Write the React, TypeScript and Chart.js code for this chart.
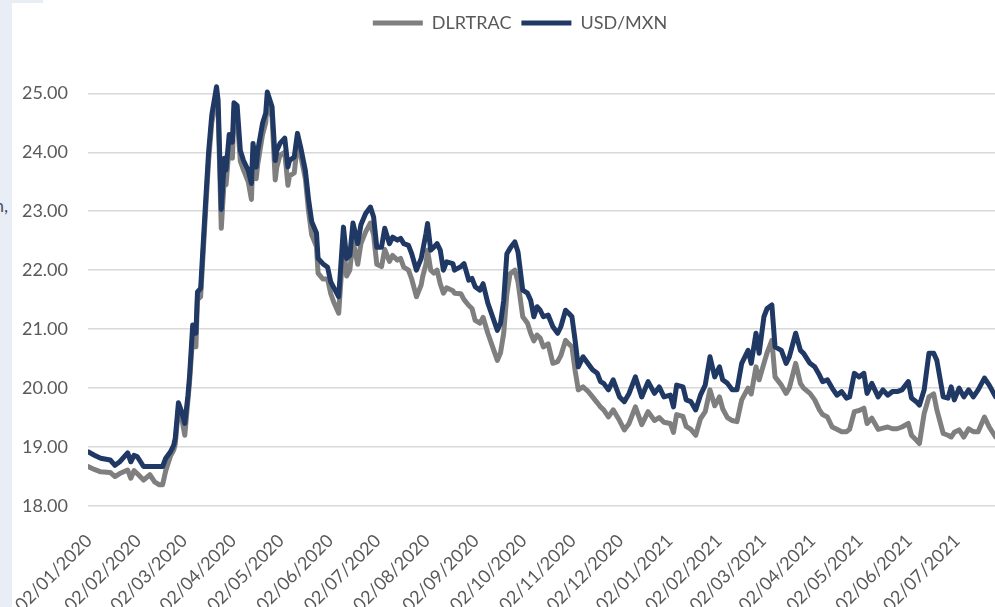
import { useEffect, useRef } from "react";
import { Chart, registerables } from "chart.js";

Chart.register(...registerables);

// ---- data ----
const dates = [
  "2020-01-02","2020-01-06","2020-01-10","2020-01-16","2020-01-19","2020-01-22","2020-01-27","2020-01-29","2020-01-31",
  "2020-02-02","2020-02-06","2020-02-10","2020-02-13","2020-02-16","2020-02-18","2020-02-20","2020-02-23","2020-02-25","2020-02-26","2020-02-28",
  "2020-03-01","2020-03-03","2020-03-05","2020-03-06","2020-03-08","2020-03-10","2020-03-11","2020-03-13","2020-03-16","2020-03-18","2020-03-20","2020-03-23","2020-03-24","2020-03-26","2020-03-28","2020-03-29","2020-03-31",
  "2020-04-02","2020-04-03","2020-04-05","2020-04-07","2020-04-09","2020-04-12","2020-04-14","2020-04-15","2020-04-17","2020-04-18","2020-04-21","2020-04-23","2020-04-24","2020-04-27","2020-04-29","2020-04-30",
  "2020-05-02","2020-05-05","2020-05-07","2020-05-08","2020-05-11","2020-05-13","2020-05-15","2020-05-18","2020-05-20","2020-05-22","2020-05-25","2020-05-26","2020-05-29",
  "2020-06-01","2020-06-03","2020-06-05","2020-06-08","2020-06-11","2020-06-13","2020-06-15","2020-06-17","2020-06-20","2020-06-22","2020-06-25","2020-06-28","2020-06-30",
  "2020-07-02","2020-07-05","2020-07-07","2020-07-10","2020-07-12","2020-07-15","2020-07-17","2020-07-19","2020-07-22","2020-07-24","2020-07-27","2020-07-30","2020-07-31",
  "2020-08-02","2020-08-03","2020-08-05","2020-08-07","2020-08-09","2020-08-11","2020-08-13","2020-08-15","2020-08-19","2020-08-20","2020-08-24","2020-08-26","2020-08-29","2020-08-31",
  "2020-09-02","2020-09-05","2020-09-07","2020-09-10","2020-09-13","2020-09-16","2020-09-18","2020-09-20","2020-09-22","2020-09-24","2020-09-27","2020-09-29",
  "2020-10-02","2020-10-05","2020-10-07","2020-10-09","2020-10-11","2020-10-13","2020-10-15","2020-10-18","2020-10-21","2020-10-24","2020-10-26","2020-10-29","2020-10-31",
  "2020-11-02","2020-11-04","2020-11-06","2020-11-09","2020-11-12","2020-11-15","2020-11-18","2020-11-20","2020-11-22","2020-11-25","2020-11-28",
  "2020-12-02","2020-12-05","2020-12-08","2020-12-12","2020-12-16","2020-12-20","2020-12-24","2020-12-27","2020-12-30",
  "2021-01-03","2021-01-05","2021-01-07","2021-01-11","2021-01-13","2021-01-16","2021-01-19","2021-01-22","2021-01-25","2021-01-28","2021-01-31",
  "2021-02-03","2021-02-05","2021-02-08","2021-02-11","2021-02-14","2021-02-17","2021-02-21","2021-02-23","2021-02-26","2021-02-28",
  "2021-03-03","2021-03-05","2021-03-08","2021-03-10","2021-03-14","2021-03-17","2021-03-19","2021-03-23","2021-03-26","2021-03-28",
  "2021-04-01","2021-04-04","2021-04-07","2021-04-09","2021-04-12","2021-04-15","2021-04-18","2021-04-21","2021-04-24","2021-04-26","2021-04-29",
  "2021-05-02","2021-05-05","2021-05-07","2021-05-10","2021-05-14","2021-05-17","2021-05-20","2021-05-23","2021-05-26","2021-05-29",
  "2021-06-02","2021-06-04","2021-06-07","2021-06-09","2021-06-12","2021-06-15","2021-06-18","2021-06-20","2021-06-24","2021-06-27","2021-06-29",
  "2021-07-01","2021-07-04","2021-07-07","2021-07-10","2021-07-13","2021-07-16","2021-07-20","2021-07-23","2021-07-27",
];

const usdMxn = [
  18.92,18.86,18.81,18.78,18.69,18.75,18.90,18.75,18.86,
  18.84,18.67,18.67,18.67,18.67,18.67,18.81,18.92,19.03,19.15,19.75,
  19.60,19.40,19.88,20.20,21.07,20.93,21.63,21.69,23.10,24.00,24.63,25.11,24.88,23.03,23.90,23.70,24.30,
  24.17,24.84,24.79,24.03,23.86,23.69,23.47,24.15,23.75,24.03,24.49,24.66,25.02,24.77,23.86,24.03,
  24.15,24.24,23.75,23.86,23.92,24.32,24.09,23.69,23.20,22.82,22.63,22.20,22.11,
  22.05,21.80,21.70,21.55,22.73,22.20,22.25,22.80,22.45,22.77,22.96,23.07,22.90,
  22.39,22.39,22.71,22.45,22.56,22.51,22.54,22.45,22.42,22.28,22.00,22.20,22.34,
  22.62,22.79,22.34,22.39,22.45,22.34,22.00,22.14,22.11,22.00,22.06,22.11,21.83,21.86,
  21.72,21.66,21.77,21.44,21.21,20.98,21.10,21.49,22.28,22.37,22.48,22.31,
  21.66,21.61,21.49,21.21,21.38,21.32,21.21,21.24,21.04,20.93,21.04,21.32,21.27,
  21.21,20.81,20.36,20.53,20.42,20.31,20.25,20.11,20.08,19.97,20.14,
  19.85,19.77,19.91,20.19,19.85,20.11,19.91,20.02,19.85,
  19.88,19.68,20.05,20.02,19.80,19.77,19.63,19.88,20.05,20.53,20.19,
  20.36,20.14,20.08,19.97,19.97,20.42,20.64,20.42,20.93,20.59,
  21.21,21.35,21.41,20.70,20.64,20.42,20.53,20.93,20.64,20.59,
  20.42,20.36,20.22,20.11,20.14,20.00,19.88,19.94,19.83,19.85,20.25,
  20.19,20.25,19.91,20.08,19.85,19.97,19.88,19.94,19.94,19.97,
  20.11,19.83,19.77,19.71,19.97,20.59,20.59,20.47,19.85,19.83,20.02,
  19.80,20.00,19.85,19.97,19.85,19.97,20.17,20.05,19.85,
];

const dlrTrac = [
  18.67,18.62,18.58,18.57,18.50,18.55,18.61,18.47,18.60,
  18.55,18.44,18.53,18.41,18.36,18.36,18.60,18.85,18.95,19.05,19.65,
  19.50,19.20,19.80,20.10,20.90,20.70,21.50,21.55,22.95,23.85,24.50,24.95,24.70,22.71,23.60,23.45,24.10,
  23.90,24.70,24.60,23.85,23.70,23.50,23.20,23.95,23.55,23.80,24.30,24.50,24.85,24.60,23.53,23.75,
  23.95,24.00,23.44,23.60,23.65,24.15,23.95,23.55,23.00,22.60,22.40,21.95,21.85,
  21.85,21.60,21.45,21.27,22.45,21.90,22.00,22.50,22.10,22.45,22.65,22.80,22.60,
  22.10,22.06,22.35,22.15,22.25,22.17,22.20,22.05,22.00,21.85,21.55,21.75,21.90,
  22.10,22.34,22.00,21.95,22.00,21.77,21.61,21.70,21.65,21.61,21.60,21.50,21.40,21.35,
  21.15,21.10,21.20,20.93,20.70,20.47,20.60,20.93,21.60,21.94,22.00,21.80,
  21.21,21.10,20.93,20.80,20.90,20.85,20.70,20.75,20.42,20.45,20.55,20.81,20.75,
  20.70,20.30,19.97,20.02,19.95,19.85,19.75,19.68,19.63,19.51,19.63,
  19.45,19.29,19.40,19.68,19.38,19.60,19.45,19.50,19.42,
  19.40,19.25,19.55,19.52,19.35,19.30,19.20,19.48,19.60,19.97,19.70,
  19.85,19.65,19.50,19.45,19.43,19.80,20.00,19.90,20.36,20.14,
  20.42,20.60,20.81,20.19,20.05,19.91,20.00,20.42,20.08,20.00,
  19.91,19.80,19.63,19.55,19.51,19.34,19.30,19.26,19.26,19.30,19.60,
  19.62,19.66,19.40,19.49,19.30,19.32,19.34,19.31,19.31,19.34,
  19.40,19.20,19.12,19.06,19.57,19.85,19.90,19.63,19.23,19.20,19.17,
  19.25,19.29,19.17,19.31,19.26,19.26,19.51,19.34,19.17,
];

const tickLabels = [
  "02/01/2020","02/02/2020","02/03/2020","02/04/2020","02/05/2020","02/06/2020","02/07/2020",
  "02/08/2020","02/09/2020","02/10/2020","02/11/2020","02/12/2020","02/01/2021","02/02/2021",
  "02/03/2021","02/04/2021","02/05/2021","02/06/2021","02/07/2021",
];

const seriesNames = ["USD/MXN", "DLRTRAC"];
const axisStart = "2020-01-02";
const axisEnd = "2021-08-24";
const yMin = 18;
const yMax = 25.87;

const DAY = 86400000;
const toDay = (iso: string) => {
  const [y, m, d] = iso.split("-").map(Number);
  const [y0, m0, d0] = axisStart.split("-").map(Number);
  return Math.round((Date.UTC(y, m - 1, d) - Date.UTC(y0, m0 - 1, d0)) / DAY);
};
const labelToIso = (l: string) => {
  const [d, m, y] = l.split("/");
  return `${y}-${m}-${d}`;
};

export default function App() {
  const ref = useRef<HTMLCanvasElement>(null);

  useEffect(() => {
    const font = { family: "Lato", size: 18 };
    const textColor = "#595959";
    const tickDays = tickLabels.map((l) => toDay(labelToIso(l)));
    const labelByDay = new Map<number, string>();
    tickDays.forEach((d, i) => labelByDay.set(d, tickLabels[i]));

    const chart = new Chart(ref.current!, {
      type: "line",
      data: {
        datasets: [
          {
            label: seriesNames[0],
            data: dates.map((d, i) => ({ x: toDay(d), y: usdMxn[i] })),
            borderColor: "#203864",
            backgroundColor: "#203864",
            borderWidth: 5,
            pointRadius: 0,
            tension: 0,
            borderJoinStyle: "round",
            borderCapStyle: "round",
          },
          {
            label: seriesNames[1],
            data: dates.map((d, i) => ({ x: toDay(d), y: dlrTrac[i] })),
            borderColor: "#7f7f7f",
            backgroundColor: "#7f7f7f",
            borderWidth: 5,
            pointRadius: 0,
            tension: 0,
            borderJoinStyle: "round",
            borderCapStyle: "round",
          },
        ],
      },
      options: {
        responsive: false,
        animation: false,
        devicePixelRatio: 1,
        layout: { padding: { top: 4, left: 0, right: 0, bottom: 0 } },
        plugins: {
          legend: {
            position: "top",
            reverse: true,
            labels: {
              usePointStyle: true,
              pointStyle: "line",
              pointStyleWidth: 50,
              font,
              color: textColor,
              padding: 10,
            },
          },
          tooltip: { enabled: false },
        },
        scales: {
          x: {
            type: "linear",
            min: toDay(axisStart),
            max: toDay(axisEnd),
            grid: { display: false },
            border: { display: false },
            afterBuildTicks: (s: any) => {
              s.ticks = tickDays.map((v) => ({ value: v }));
            },
            afterFit: (s: any) => {
              s.height = 101;
            },
            ticks: {
              autoSkip: false,
              minRotation: 45,
              maxRotation: 45,
              padding: 16,
              labelOffset: 1,
              font,
              color: textColor,
              callback: (v: any) => labelByDay.get(Number(v)) ?? "",
            },
          },
          y: {
            min: yMin,
            max: yMax,
            afterBuildTicks: (s: any) => {
              s.ticks = s.ticks.filter((t: any) => Number.isInteger(t.value));
            },
            afterFit: (s: any) => {
              s.width = 88;
            },
            grid: { color: "#d9d9d9", lineWidth: 1.5, drawTicks: false },
            border: { display: false },
            ticks: {
              stepSize: 1,
              padding: 20,
              font,
              color: textColor,
              callback: (v: any) => Number(v).toFixed(2),
            },
          },
        },
      },
    });
    return () => chart.destroy();
  }, []);

  return (
    <div
      style={{
        position: "fixed",
        left: 0,
        top: 0,
        width: 995,
        height: 607,
        overflow: "hidden",
        background: "#ffffff",
      }}
    >
      <canvas
        ref={ref}
        width={1040}
        height={607}
        style={{ position: "absolute", left: 0, top: 0, width: 1040, height: 607 }}
      />
      <div style={{ position: "absolute", left: 0, top: 0, width: 12, height: 607, background: "#e9eef6", overflow: "hidden" }}>
        <span style={{ position: "absolute", left: -6, top: 194, font: "18px Lato", color: "#44546a", whiteSpace: "nowrap" }}>n,</span>
      </div>
      <div style={{ position: "absolute", left: 0, top: 0, width: 43, height: 3, background: "#e9eef6" }} />
    </div>
  );
}
